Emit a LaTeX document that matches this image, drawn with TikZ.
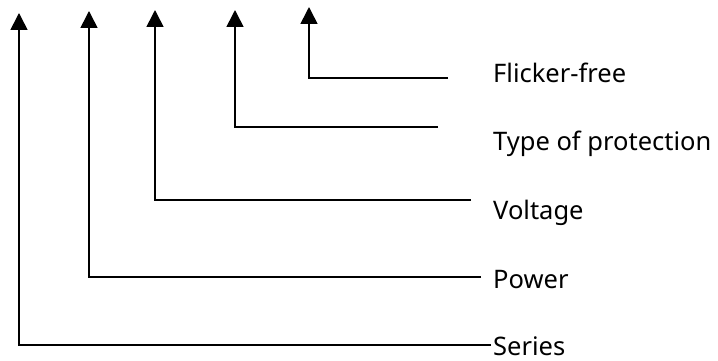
\documentclass[tikz,border=0pt]{standalone}
\usepackage{fontspec}
\setmainfont{Noto Sans}
\usetikzlibrary{arrows.meta}
\tikzset{
  lbl/.style={anchor=base west, inner sep=0pt, font=\fontsize{25.5}{30}\selectfont},
  lead/.style={line width=1.6pt, -{Triangle[length=17pt,width=17pt]}},
}
\begin{document}
\begin{tikzpicture}[x=1pt,y=-1pt]
\useasboundingbox (0,0) rectangle (718,361);
% labels
\node[lbl] (ff) at (493,82) {Flicker-free};
\node[lbl] (tp) at (493,150) {Type of protection};
\node[lbl] (vo) at (493,219) {Voltage};
\node[lbl] (po) at (493,288) {Power};
\node[lbl] (se) at (493,355) {Series};
% line ends and tips
\coordinate (ffe) at (448,78);  \coordinate (fft) at (309,7);
\coordinate (tpe) at (438,127); \coordinate (tpt) at (235,10);
\coordinate (voe) at (471,200); \coordinate (vot) at (155,10);
\coordinate (poe) at (481,277); \coordinate (pot) at (89,11);
\coordinate (see) at (491,345); \coordinate (set) at (19,13);
% leads
\draw[lead] (ffe) -- (ffe -| fft) -- (fft);
\draw[lead] (tpe) -- (tpe -| tpt) -- (tpt);
\draw[lead] (voe) -- (voe -| vot) -- (vot);
\draw[lead] (poe) -- (poe -| pot) -- (pot);
\draw[lead] (see) -- (see -| set) -- (set);
\end{tikzpicture}
\end{document}
